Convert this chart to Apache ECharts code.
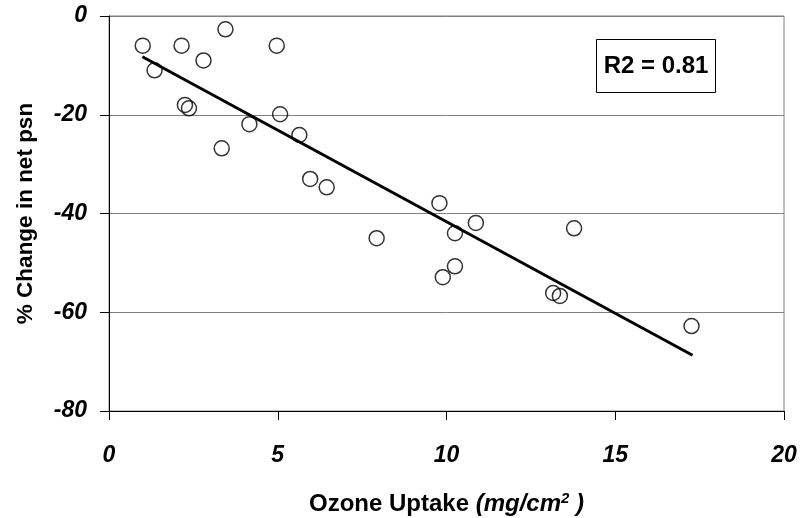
<!DOCTYPE html>
<html>
<head>
<meta charset="utf-8">
<script src="https://cdn.jsdelivr.net/npm/echarts@6/dist/echarts.min.js"></script>
<style>html,body{margin:0;padding:0;background:#fff}#c{width:803px;height:518px}</style>
</head>
<body>
<div id="c"></div>
<script>
// Data
var ozoneUptake = [1.0, 1.35, 2.15, 2.8, 3.45, 4.97, 2.25, 2.37, 5.07, 4.16, 3.34, 5.64, 5.96, 6.45, 7.93, 9.79, 9.89, 10.87, 10.25, 10.25, 13.78, 13.16, 13.36, 17.26];
var netPsnChange = [-6, -11, -6, -9, -2.7, -6, -18, -18.7, -19.9, -21.9, -26.8, -24.1, -33, -34.7, -45, -37.9, -52.9, -41.9, -44, -50.7, -43, -56.1, -56.7, -62.8];
var trendX = [0.99, 17.29];
var trendY = [-8.25, -68.7];
var r2Label = 'R2 = 0.81';
var xTicks = [0, 5, 10, 15, 20];
var yTicks = [0, -20, -40, -60, -80];

var points = ozoneUptake.map(function (x, i) { return [x, netPsnChange[i]]; });
var trend = trendX.map(function (x, i) { return [x, trendY[i]]; });

var FONT = 'Liberation Sans, Arial, sans-serif';
var chart = echarts.init(document.getElementById('c'), null, {renderer: 'canvas'});
chart.setOption({
  animation: false,
  backgroundColor: '#ffffff',
  grid: {left: 109, right: 19, top: 16, bottom: 107, containLabel: false, outerBoundsMode: 'none', show: true, borderColor: '#808080', borderWidth: 1},
  xAxis: {
    type: 'value', min: xTicks[0], max: xTicks[xTicks.length - 1], interval: 5,
    axisLine: {show: true, onZero: false, lineStyle: {color: '#000', width: 1}},
    axisTick: {show: true, inside: false, length: 9, lineStyle: {color: '#000'}},
    splitLine: {show: false},
    axisLabel: {fontFamily: FONT, fontSize: 23, fontWeight: 'bold', fontStyle: 'italic', color: '#000', margin: 33},
    name: '{a|Ozone Uptake }{b|(mg/cm}{s|2}{b| )}',
    nameLocation: 'middle', nameGap: 80,
    nameTextStyle: {
      rich: {
        a: {fontFamily: FONT, fontSize: 24, fontWeight: 'bold', color: '#000'},
        b: {fontFamily: FONT, fontSize: 24, fontWeight: 'bold', fontStyle: 'italic', color: '#000'},
        s: {fontFamily: FONT, fontSize: 15, fontWeight: 'bold', fontStyle: 'italic', color: '#000', verticalAlign: 'bottom', padding: [0, 0, 11, 0]}
      }
    }
  },
  yAxis: {
    type: 'value', min: yTicks[yTicks.length - 1], max: yTicks[0], interval: 20,
    axisLine: {show: true, onZero: false, lineStyle: {color: '#000', width: 1}},
    axisTick: {show: true, inside: false, length: 9, lineStyle: {color: '#000'}},
    splitLine: {show: true, lineStyle: {color: '#808080', width: 1}},
    axisLabel: {fontFamily: FONT, fontSize: 23, fontWeight: 'bold', fontStyle: 'italic', color: '#000', margin: 22},
    name: '% Change in net psn',
    nameLocation: 'middle', nameGap: 72, nameRotate: 90,
    nameTextStyle: {fontFamily: FONT, fontSize: 22.5, fontWeight: 'bold', color: '#000'}
  },
  series: [
    {
      type: 'line', data: trend, symbol: 'none', silent: true,
      lineStyle: {color: '#000', width: 3}, z: 2
    },
    {
      type: 'scatter', data: points, symbol: 'circle', symbolSize: 15,
      itemStyle: {color: 'rgba(255,255,255,0)', borderColor: '#000', borderWidth: 1.5}, z: 3
    }
  ],
  graphic: [
    {
      type: 'group', left: 596, top: 39,
      children: [
        {type: 'rect', shape: {x: 0, y: 0, width: 119, height: 53}, style: {fill: '#fff', stroke: '#000', lineWidth: 1}},
        {type: 'text', x: 59.5, y: 27, style: {text: r2Label, fontFamily: FONT, fontSize: 24, fontWeight: 'bold', fill: '#000', align: 'center', verticalAlign: 'middle'}}
      ]
    }
  ]
});
</script>
</body>
</html>
